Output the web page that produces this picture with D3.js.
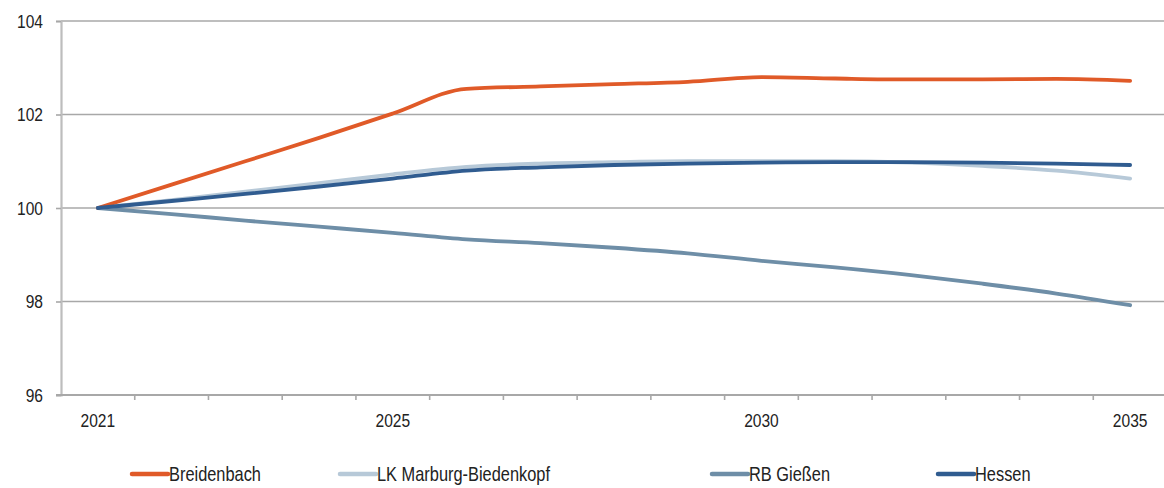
<!DOCTYPE html>
<html>
<head>
<meta charset="utf-8">
<script src="https://cdn.jsdelivr.net/npm/d3@7"></script>
<style>
  body { margin: 0; background: #fff; }
  svg { display: block; font-family: 'Liberation Sans', Arial, sans-serif; }
</style>
</head>
<body>
<div id="chart"></div>
<script>
const years = d3.range(2021, 2036)
const yearLabels = ['2021', '2025', '2030', '2035']
const yTicks = [96, 98, 100, 102, 104]

const breidenbach = [100, 100.5, 101.0, 101.5, 102.02, 102.55, 102.6, 102.65, 102.7, 102.8, 102.77, 102.75, 102.75, 102.76, 102.72]
const marburg = [100, 100.17, 100.35, 100.53, 100.72, 100.88, 100.95, 100.98, 101.0, 101.0, 101.0, 100.97, 100.9, 100.8, 100.63]
const giessen = [100, 99.87, 99.73, 99.6, 99.47, 99.33, 99.25, 99.15, 99.03, 98.87, 98.73, 98.57, 98.38, 98.17, 97.92]
const hessen = [100, 100.15, 100.3, 100.46, 100.63, 100.8, 100.87, 100.92, 100.95, 100.97, 100.98, 100.98, 100.97, 100.95, 100.92]

const seriesNames = ['Breidenbach', 'LK Marburg-Biedenkopf', 'RB Gießen', 'Hessen']
const seriesColors = ['#E05A28', '#B7C9D8', '#6E8EA7', '#305C90']

const series = [breidenbach, marburg, giessen, hessen].map((values, i) => ({
  name: seriesNames[i],
  color: seriesColors[i],
  values: values.map((v, j) => ({ year: years[j], value: v }))
}))

const width = 1164
const height = 488
const margin = { top: 21, left: 61, right: -3, bottom: 93 }
// the original uses a condensed face; squeeze the regular one horizontally
const squeeze = 'scale(0.82,1)'

const svg = d3.select('#chart').append('svg')
  .attr('width', width)
  .attr('height', height)

const x = d3.scaleBand()
  .domain(years)
  .range([margin.left, width - margin.right])

const y = d3.scaleLinear()
  .domain([96, 104])
  .range([height - margin.bottom, margin.top])

// gridlines
svg.append('g')
  .selectAll('line')
  .data(yTicks.filter(d => d !== 96))
  .join('line')
    .attr('x1', margin.left)
    .attr('x2', width)
    .attr('y1', d => y(d))
    .attr('y2', d => y(d))
    .attr('stroke', '#A8A8A8')
    .attr('stroke-width', 1.6)

// y axis
const yAxis = svg.append('g')
  .attr('transform', `translate(${margin.left},0)`)
  .call(d3.axisLeft(y).tickValues(yTicks).tickSize(5).tickPadding(17).tickFormat(d3.format('d')))
yAxis.select('.domain').attr('stroke', '#BDBDBD').attr('stroke-width', 2.2)
yAxis.selectAll('.tick line').attr('stroke', '#A8A8A8').attr('stroke-width', 1.6)
yAxis.selectAll('.tick text')
  .attr('font-size', 19)
  .attr('fill', '#222')
  .attr('font-family', 'Liberation Sans, Arial, sans-serif')
  .attr('transform', squeeze)

// x axis: ticks between categories
const xAxis = svg.append('g')
  .attr('transform', `translate(0,${y(96)})`)
xAxis.append('line')
  .attr('x1', margin.left - 5)
  .attr('x2', width)
  .attr('stroke', '#A8A8A8')
  .attr('stroke-width', 1.8)
xAxis.selectAll('.xtick')
  .data(years.slice(1))
  .join('line')
    .attr('class', 'xtick')
    .attr('x1', d => x(d))
    .attr('x2', d => x(d))
    .attr('y1', 0)
    .attr('y2', 5)
    .attr('stroke', '#A8A8A8')
    .attr('stroke-width', 1.6)
xAxis.selectAll('text')
  .data(yearLabels)
  .join('text')
    .attr('transform', d => `translate(${x(+d) + x.bandwidth() / 2},32) ${squeeze}`)
    .attr('text-anchor', 'middle')
    .attr('font-size', 19)
    .attr('fill', '#222')
    .text(d => d)

// lines
const line = d3.line()
  .x(d => x(d.year) + x.bandwidth() / 2)
  .y(d => y(d.value))
  .curve(d3.curveMonotoneX)

const drawOrder = [2, 1, 0, 3]
svg.append('g')
  .selectAll('path')
  .data(drawOrder.map(i => series[i]))
  .join('path')
    .attr('d', d => line(d.values))
    .attr('fill', 'none')
    .attr('stroke', d => d.color)
    .attr('stroke-width', 3.8)
    .attr('stroke-linecap', 'round')
    .attr('stroke-linejoin', 'round')

// legend
const legendX = [132, 340, 712, 938]
const legendY = 474
const legend = svg.append('g')
  .selectAll('g')
  .data(series)
  .join('g')
    .attr('transform', (d, i) => `translate(${legendX[i]},${legendY})`)
legend.append('line')
  .attr('x1', 0)
  .attr('x2', 36)
  .attr('stroke', d => d.color)
  .attr('stroke-width', 4.5)
  .attr('stroke-linecap', 'round')
legend.append('text')
  .attr('transform', `translate(37,7) ${squeeze}`)
  .attr('font-size', 20)
  .attr('fill', '#222')
  .text(d => d.name)
</script>
</body>
</html>
